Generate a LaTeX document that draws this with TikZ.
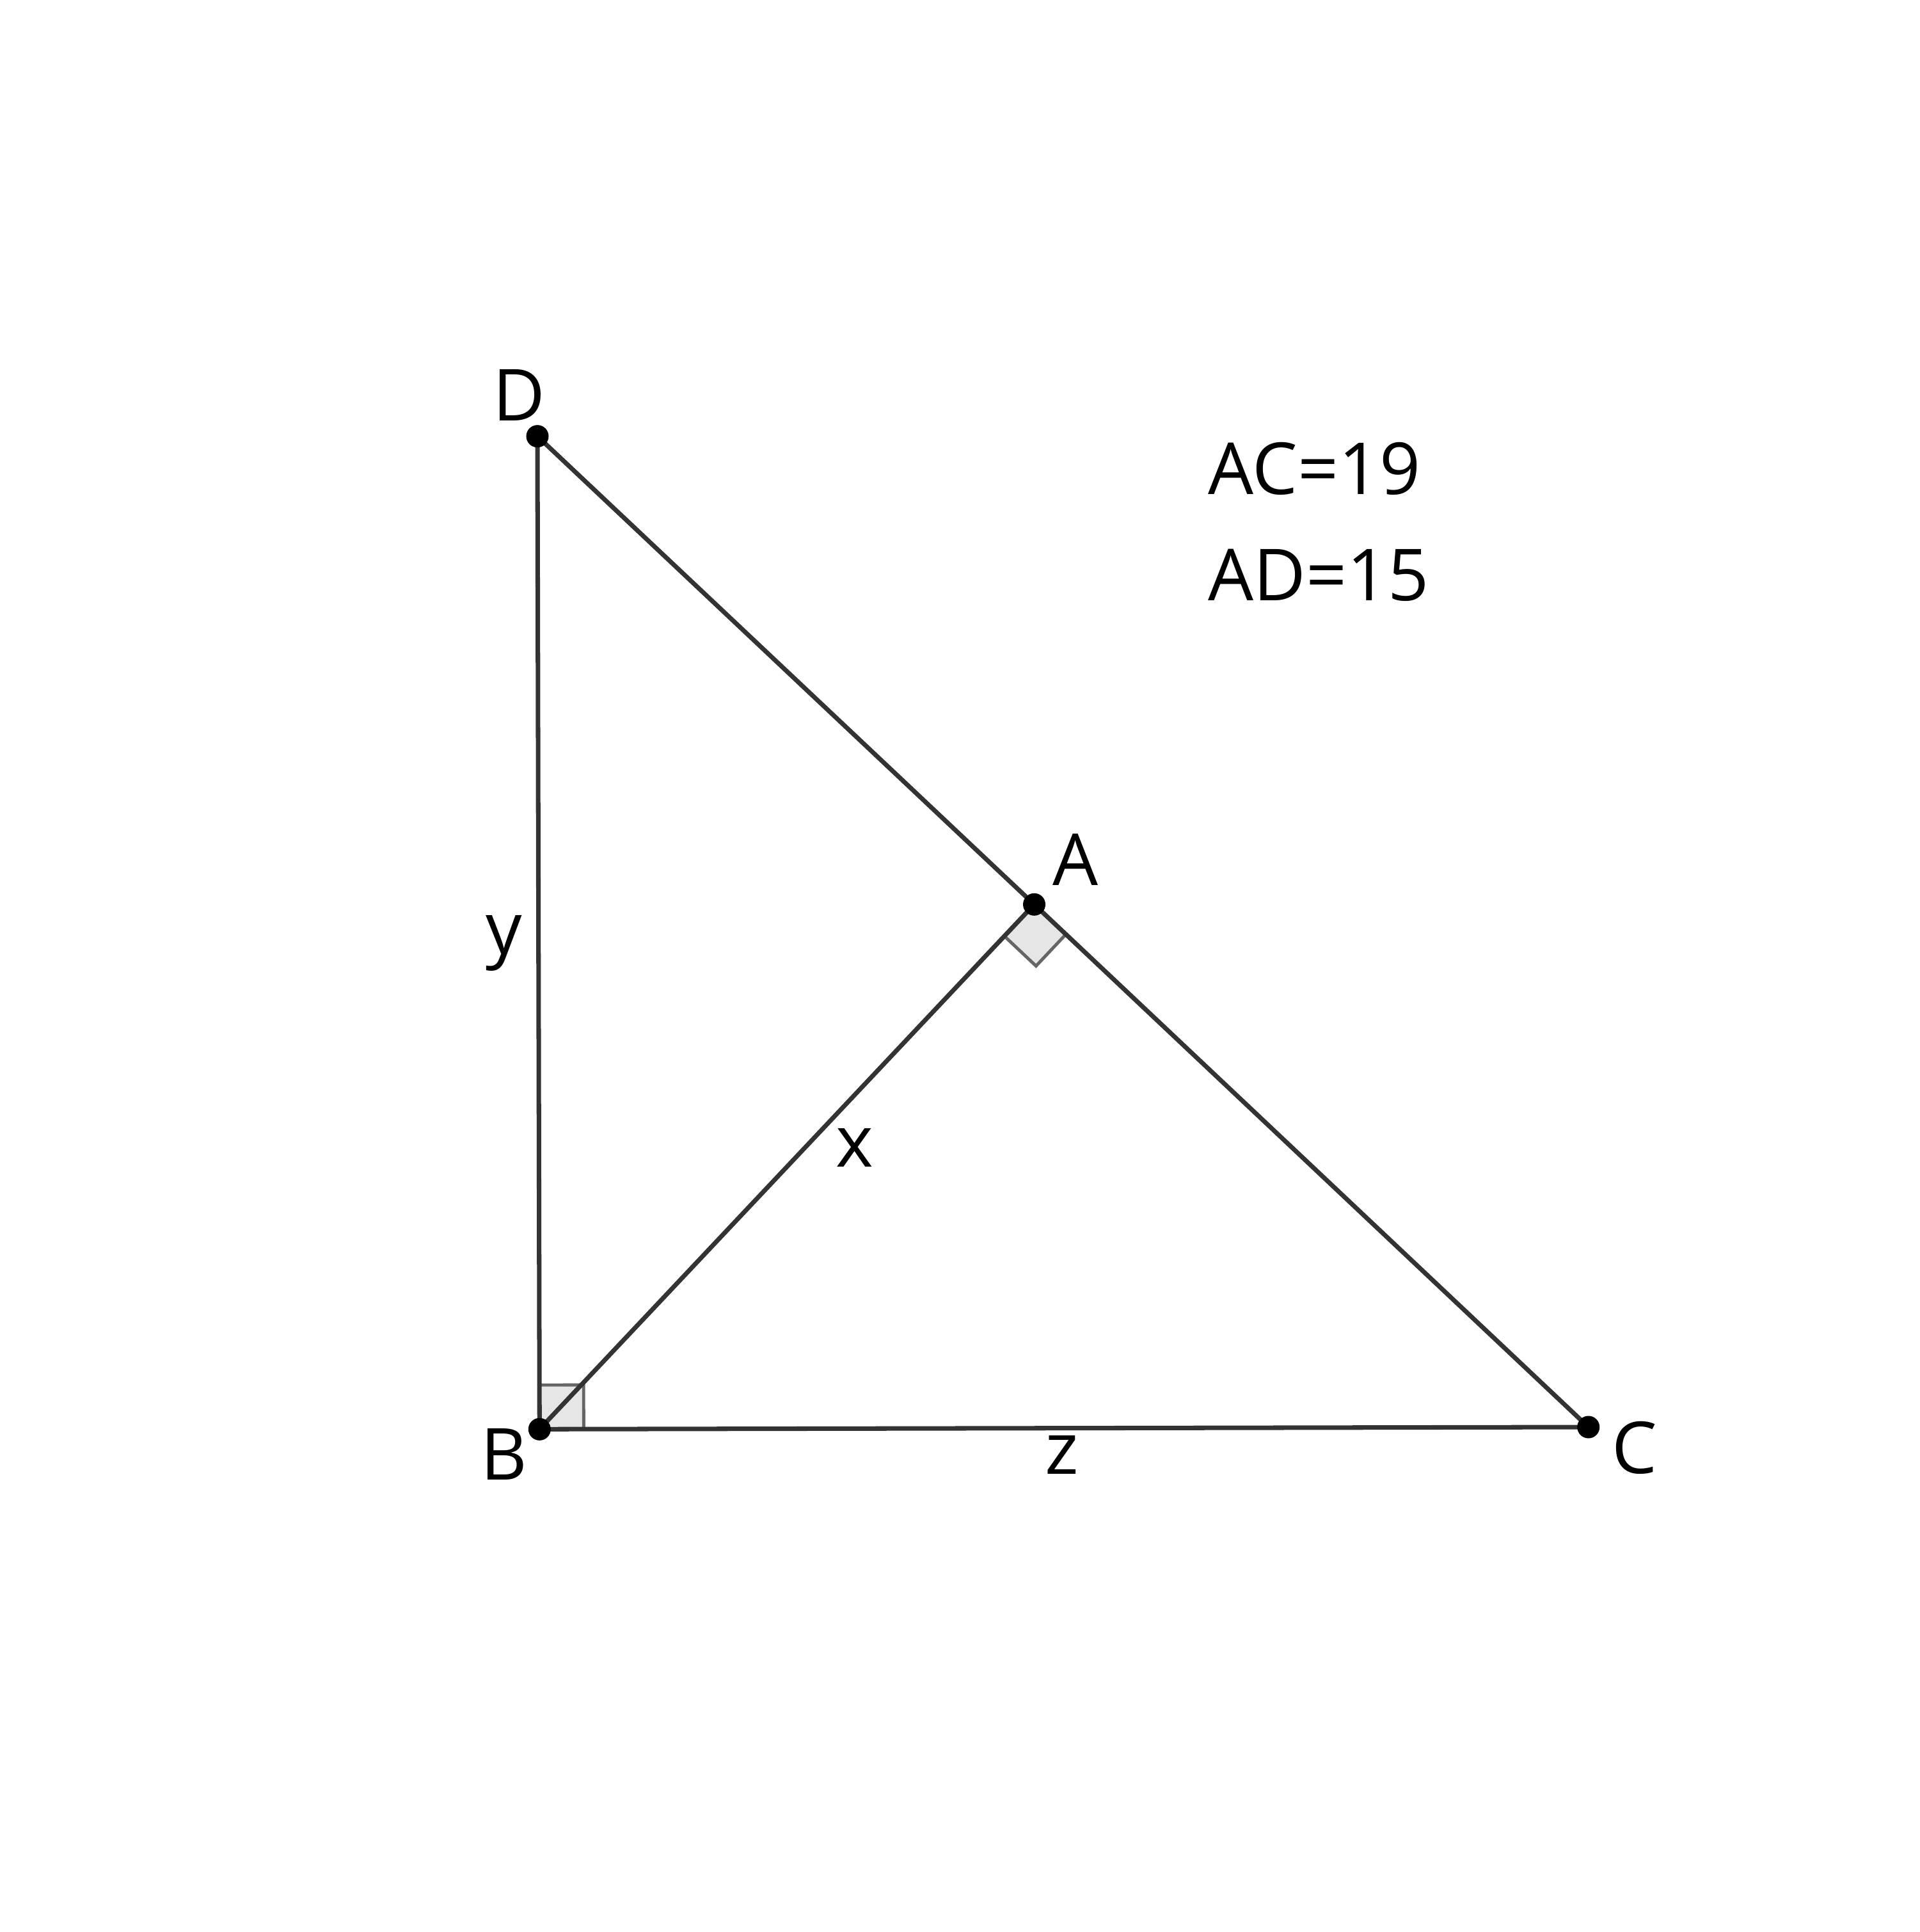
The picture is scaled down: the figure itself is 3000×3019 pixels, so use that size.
\documentclass[tikz,border=0pt]{standalone}
\usepackage{fontspec}
\setmainfont{Open Sans}
\usetikzlibrary{calc}
\definecolor{edge}{HTML}{333333}
\definecolor{markline}{HTML}{666666}
\definecolor{markfill}{HTML}{E6E6E6}
\begin{document}
\begin{tikzpicture}[x=0.01cm,y=-0.01cm,
  seg/.style={draw=edge,line width=2pt},
  rmark/.style={draw=markline,fill=markfill,line width=1.4pt,line join=miter},
  ptdot/.style={fill=black},
  lbl/.style={inner sep=0pt,anchor=base,font=\fontsize{31.9}{38}\selectfont}]
\useasboundingbox (0,0) rectangle (3000,3019);
\coordinate (D) at (840,681.7);
\coordinate (A) at (1616.5,1413.3);
\coordinate (B) at (843.3,2233.3);
\coordinate (C) at (2482.7,2230);
% right angle marks
\coordinate (Ab) at ($(A)!0.68cm!(B)$);
\coordinate (Ac) at ($(A)!0.68cm!(C)$);
\draw[rmark] (A) -- (Ab) -- ($(Ab)+(Ac)-(A)$) -- (Ac) -- cycle;
\coordinate (Bc) at ($(B)!0.69cm!(C)$);
\coordinate (Bd) at ($(B)!0.69cm!(D)$);
\draw[rmark] (B) -- (Bc) -- ($(Bc)+(Bd)-(B)$) -- (Bd) -- cycle;
% segments
\draw[seg] (D) -- (B);
\draw[seg] (B) -- (C);
\draw[seg] (D) -- (A);
\draw[seg] (A) -- (C);
\draw[seg] (A) -- (B);
% points
\foreach \p in {A,B,C,D} \fill[ptdot] (\p) circle (0.175cm);
% labels
\node[lbl] (lD) at (811,658) {D};
\node[lbl] (lA) at (1681,1383) {A};
\node[lbl] (lB) at (788,2312) {B};
\node[lbl] (lC) at (2555,2302) {C};
\node[lbl] (ly) at (788,1490) {y};
\node[lbl] (lx) at (1336,1823) {x};
\node[lbl] (lz) at (1660,2303) {z};
\node[lbl,anchor=base west] (t1) at (1888,773) {AC=19};
\node[lbl,anchor=base west] (t2) at (1888,938) {AD=15};
\end{tikzpicture}
\end{document}
